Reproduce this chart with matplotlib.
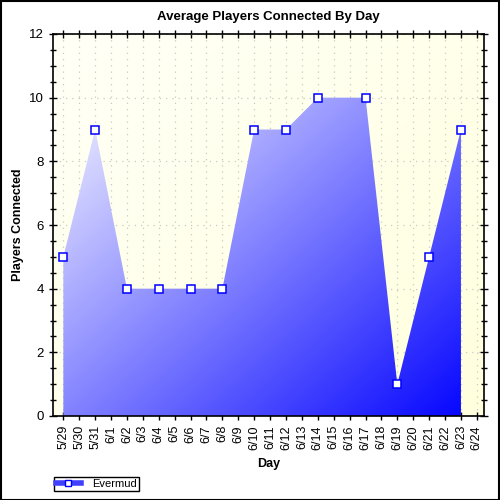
import matplotlib
matplotlib.use("Agg")
import matplotlib.pyplot as plt
from matplotlib.patches import Polygon
from matplotlib.lines import Line2D
import numpy as np

plt.rcParams['font.family'] = ['Liberation Sans', 'DejaVu Sans']

# x axis labels (one per day)
day_labels = ['5/29', '5/30', '5/31', '6/1', '6/2', '6/3', '6/4', '6/5', '6/6',
              '6/7', '6/8', '6/9', '6/10', '6/11', '6/12', '6/13', '6/14',
              '6/15', '6/16', '6/17', '6/18', '6/19', '6/20', '6/21', '6/22',
              '6/23', '6/24']
# measured days and values
days = ['5/29', '5/31', '6/2', '6/4', '6/6', '6/8', '6/10', '6/12', '6/14',
        '6/17', '6/19', '6/21', '6/23']
players = [5, 9, 4, 4, 4, 4, 9, 9, 10, 10, 1, 5, 9]
series_name = 'Evermud'

xs = [day_labels.index(d) for d in days]

fig = plt.figure(figsize=(5, 5), dpi=100)
ax = fig.add_axes([0.106, 0.168, 0.862, 0.764])
xmin, xmax = -0.65, 26.45
ax.set_xlim(xmin, xmax)
ax.set_ylim(0, 12)

# yellow background gradient
gx, gy = np.meshgrid(np.linspace(0, 1, 200), np.linspace(1, 0, 200))
t = (gx + (1 - gy)) / 2
bg = np.dstack([np.ones_like(t), np.ones_like(t), 0.97 - 0.1 * t])
ax.imshow(bg, extent=[xmin, xmax, 0, 12], aspect='auto', zorder=0)

ax.set_axisbelow(True)
ax.grid(True, which='major', linestyle=(0, (1, 4)), color='#c8c8c8', linewidth=0.9, zorder=1)

# blue gradient area fill
fill = np.dstack([1.05 - 1.05 * t, 1.05 - 1.05 * t, np.ones_like(t)])
fill = np.clip(fill, 0, 1)
im = ax.imshow(fill, extent=[xmin, xmax, 0, 12], aspect='auto', zorder=2)
poly = Polygon([(xs[0], 0)] + list(zip(xs, players)) + [(xs[-1], 0)],
               closed=True, facecolor='none', edgecolor='none')
ax.add_patch(poly)
im.set_clip_path(poly)

ax.plot(xs, players, linestyle='none', marker='s', markersize=5.5,
        markerfacecolor='white', markeredgecolor='blue', markeredgewidth=1.1,
        zorder=4, clip_on=False)

ax.set_xticks(range(len(day_labels)))
ax.set_xticklabels(day_labels, rotation=90, fontsize=9)
ax.set_yticks(range(0, 13, 2))
ax.set_yticks(np.arange(0, 12.01, 0.5), minor=True)
ax.tick_params(axis='y', labelsize=9.5)
ax.tick_params(which='both', direction='inout', top=True, right=True,
               length=6, width=1)
ax.tick_params(which='minor', length=5)
for s in ax.spines.values():
    s.set_linewidth(1.2)

ax.set_title('Average Players Connected By Day', fontsize=9.5,
             fontweight='bold', pad=10)
ax.set_xlabel('Day', fontsize=9, fontweight='bold', labelpad=6)
ax.set_ylabel('Players Connected', fontsize=9, fontweight='bold')
ax.yaxis.set_label_coords(-0.068, 0.5)

handle = Line2D([], [], color='#4040ff', linewidth=4, marker='s', markersize=5,
                markerfacecolor='white', markeredgecolor='blue')
leg = fig.legend([handle], [series_name], loc='lower left',
                 bbox_to_anchor=(0.108, 0.018), fontsize=8, fancybox=False,
                 framealpha=1, borderpad=0.2, handlelength=2.2,
                 borderaxespad=0, handletextpad=1.0)
leg.get_frame().set_edgecolor('black')
leg.get_frame().set_linewidth(1)

fig.patches.append(plt.Rectangle((0.001, 0.001), 0.997, 0.997,
                                 transform=fig.transFigure, fill=False,
                                 edgecolor='black', linewidth=1.5))

fig.savefig('out.png', dpi=100)
